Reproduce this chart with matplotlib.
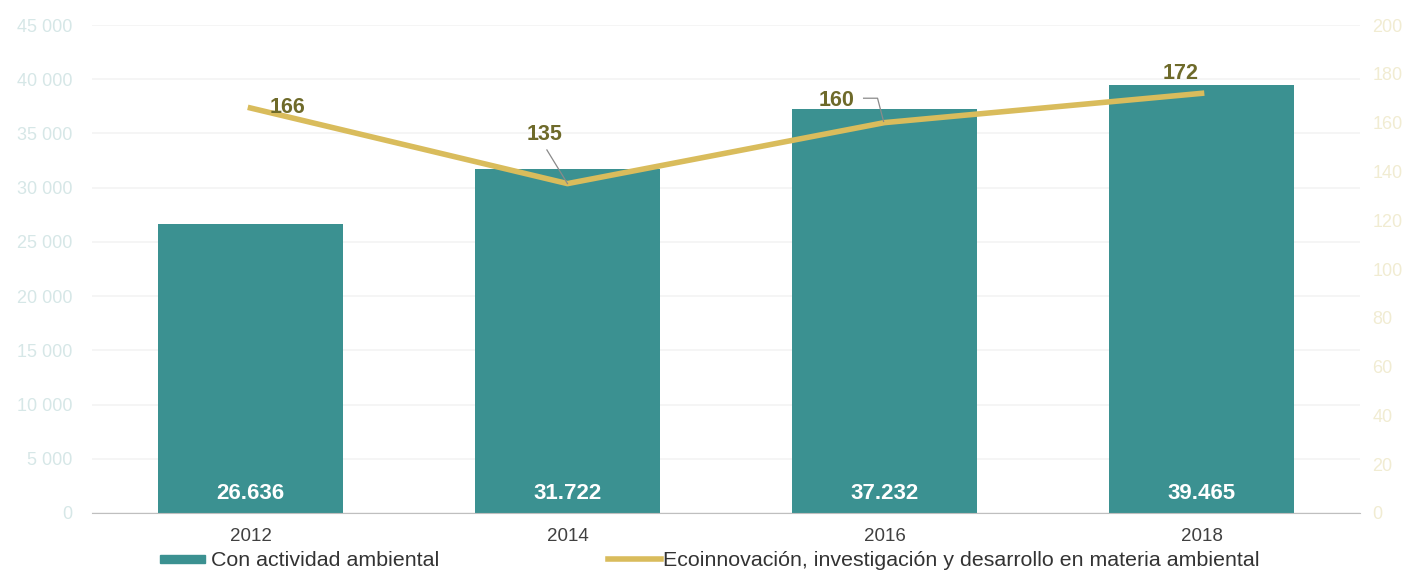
import matplotlib
matplotlib.use('Agg')
import matplotlib.pyplot as plt
from matplotlib.patches import Rectangle
from matplotlib.lines import Line2D
import numpy as np

plt.rcParams['font.family'] = ['Liberation Sans', 'DejaVu Sans']

# ── データ ──────────────────────────────────────────
years = ['2012', '2014', '2016', '2018']
con_actividad = [26636, 31722, 37232, 39465]
ecoinnovacion = [166, 135, 160, 172]
bar_labels = ['26.636', '31.722', '37.232', '39.465']
left_ticks = [0, 5000, 10000, 15000, 20000, 25000, 30000, 35000, 40000, 45000]
right_ticks = [0, 20, 40, 60, 80, 100, 120, 140, 160, 180, 200]

BAR_C = '#3b9191'
LINE_C = '#d9bc5c'
LBL_C = '#6e6a2a'

fig = plt.figure(figsize=(14.04, 5.74), dpi=100)
ax = fig.add_axes([0.0655, 0.1063, 0.9032, 0.8501])
ax2 = ax.twinx()

x = np.arange(len(years))
ax.bar(x, con_actividad, width=0.585, color=BAR_C, zorder=2)
ax.set_xlim(-0.5, 3.5)
ax.set_ylim(0, 45000)
ax.set_yticks(left_ticks)
ax.set_yticklabels([f'{v:,}'.replace(',', ' ') for v in left_ticks],
                   color='#d6e7e7', fontsize=13)
ax.set_xticks(x)
ax.set_xticklabels(years, fontsize=13.5, color='#404040')
ax.tick_params(axis='both', length=0)
ax.tick_params(axis='x', pad=11)
ax.tick_params(axis='y', pad=14)
ax.grid(axis='y', color='#f3f3f3', lw=1.2, zorder=0)
for sp in ['top', 'right', 'left']:
    ax.spines[sp].set_visible(False)
ax.spines['bottom'].set_color('#bfbfbf')

for xi, t in zip(x, bar_labels):
    ax.text(xi, 1800, t, ha='center', va='center', color='white',
            fontsize=16, fontweight='bold', zorder=4)

ax2.plot(x, ecoinnovacion, color=LINE_C, lw=4, zorder=3)
ax2.set_ylim(0, 200)
ax2.set_yticks(right_ticks)
ax2.set_yticklabels([str(v) for v in right_ticks], color='#f1ecd2', fontsize=13)
ax2.tick_params(axis='y', length=0, pad=9)
for sp in ax2.spines.values():
    sp.set_visible(False)
ax.set_zorder(1)
ax2.set_zorder(2)
ax2.patch.set_visible(False)

# 折れ線ラベル (オフセットはデータ座標系)
offsets = [(0.117, 0), (-0.073, 20), (-0.15, 9), (-0.065, 8)]
for xi, v, (dx, dy) in zip(x, ecoinnovacion, offsets):
    ax2.text(xi + dx, v + dy, str(v), ha='center', va='center',
             color=LBL_C, fontsize=15.5, fontweight='bold', zorder=5)
# 引き出し線
ax2.plot([x[1] - 0.065, x[1]], [ecoinnovacion[1] + 13.8, ecoinnovacion[1]],
         color='#8a8a8a', lw=0.9, zorder=4)
ax2.plot([x[2] - 0.066, x[2] - 0.022, x[2] - 0.003],
         [ecoinnovacion[2] + 10, ecoinnovacion[2] + 10, ecoinnovacion[2] + 0.5],
         color='#8a8a8a', lw=0.9, zorder=4)

# ── 凡例 ──────────────────────────────────────────
fig.add_artist(Rectangle((160 / 1404, 1 - 563 / 574), 45 / 1404, 8 / 574,
                         transform=fig.transFigure, color=BAR_C))
fig.text(211 / 1404, 1 - 560 / 574, 'Con actividad ambiental', va='center',
         fontsize=15.4, color='#333333')
fig.add_artist(Line2D([608 / 1404, 661 / 1404], [1 - 559 / 574] * 2,
                      transform=fig.transFigure, color=LINE_C, lw=4))
fig.text(663 / 1404, 1 - 560 / 574,
         'Ecoinnovación, investigación y desarrollo en materia ambiental',
         va='center', fontsize=15.4, color='#333333')

fig.savefig('out.png', dpi=100, facecolor='white')
